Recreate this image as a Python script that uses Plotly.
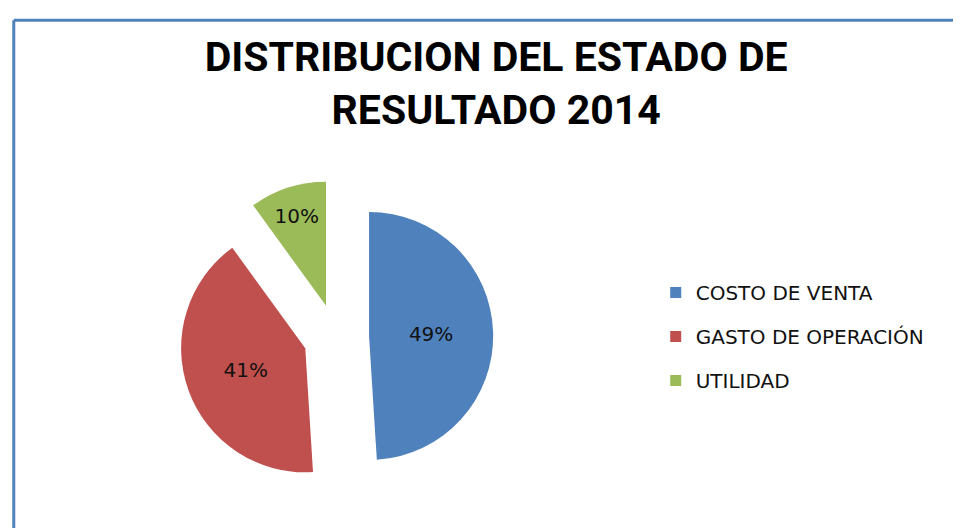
import plotly.graph_objects as go

# datos del estado de resultado 2014
categorias = ['COSTO DE VENTA', 'GASTO DE OPERACIÓN', 'UTILIDAD']
porcentajes = [49, 41, 10]
colores = ['#4F81BD', '#C0504D', '#9BBB59']
separacion = [0.265, 0.265, 0.265]

fig = go.Figure()
fig.add_trace(go.Pie(labels=categorias, values=porcentajes, sort=False,
                     direction='clockwise', rotation=0, pull=separacion,
                     marker=dict(colors=colores), textinfo='percent',
                     texttemplate='%{percent:.0%}', textposition='inside',
                     insidetextorientation='horizontal',
                     textfont=dict(family='DejaVu Sans', size=20, color='#111111'),
                     showlegend=False, hoverinfo='label+percent',
                     domain=dict(x=[0.178, 0.505], y=[0.0795, 0.6742])))

# leyenda con espacio entre elementos
for cat, col in zip(categorias, colores):
    fig.add_trace(go.Scatter(x=[None], y=[None], mode='markers', name=cat,
                             legendgroup=cat,
                             marker=dict(symbol='square', size=11, color=col)))

fig.update_layout(
    width=961, height=528,
    paper_bgcolor='white', plot_bgcolor='white',
    margin=dict(l=0, r=0, t=0, b=0),
    title=dict(text='DISTRIBUCION DEL ESTADO DE<br>RESULTADO 2014',
               x=0.508, xanchor='center', y=0.881, yanchor='middle',
               font=dict(family='Liberation Sans Narrow, Arial Narrow, Roboto',
                         size=41, color='black', weight='bold')),
    xaxis=dict(visible=False), yaxis=dict(visible=False),
    legend=dict(x=0.674, y=0.378, xanchor='left', yanchor='middle',
                tracegroupgap=15,
                font=dict(family='DejaVu Sans', size=20, color='#111111')),
    shapes=[
        dict(type='line', xref='paper', yref='paper', x0=0.006, x1=1.0,
             y0=0.977, y1=0.977, line=dict(color='#4F81BD', width=3)),
        dict(type='line', xref='paper', yref='paper', x0=0.006, x1=0.006,
             y0=0, y1=0.977, line=dict(color='#4F81BD', width=3)),
    ],
)

fig.write_html("out.html")
